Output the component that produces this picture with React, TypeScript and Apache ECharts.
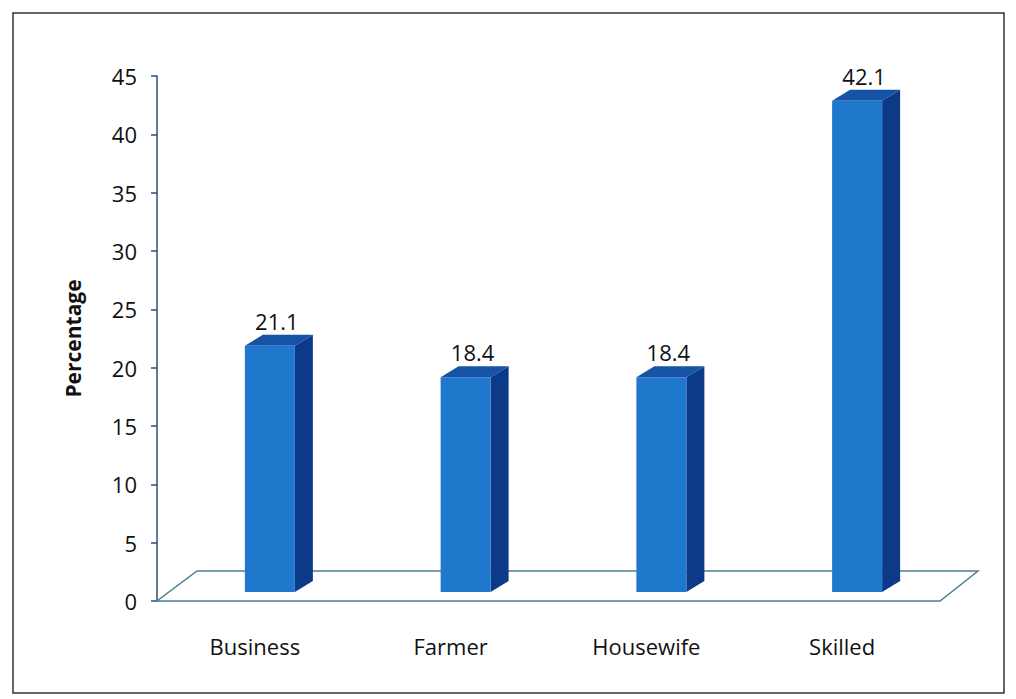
import React, { useEffect, useRef } from "react";
import * as echarts from "echarts";

const categories = ["Business", "Farmer", "Housewife", "Skilled"];
const values = [21.1, 18.4, 18.4, 42.1];
const yMin = 0;
const yMax = 45;
const yInterval = 5;

const FRONT = "#1f78cc";
const SIDE = "#0c3a88";
const TOP = "#1652a6";
const FONT = "'Open Sans', 'Noto Sans', sans-serif";

export default function App() {
  const ref = useRef<HTMLDivElement>(null);
  useEffect(() => {
    if (!ref.current) return;
    const chart = echarts.init(ref.current, null, { renderer: "svg" });
    const option: any = {
      animation: false,
      backgroundColor: "#ffffff",
      grid: { left: 157, right: 76, top: 76, bottom: 98 },
      xAxis: {
        type: "category",
        data: categories,
        axisLine: { show: false },
        axisTick: { show: false },
        axisLabel: { margin: 34, fontSize: 22, color: "#111", fontFamily: FONT },
      },
      yAxis: {
        type: "value",
        min: yMin,
        max: yMax,
        interval: yInterval,
        name: "Percentage",
        nameLocation: "middle",
        nameGap: 74,
        nameTextStyle: { fontSize: 21, fontWeight: "bold", color: "#111", fontFamily: FONT },
        axisLine: { show: true, lineStyle: { color: "#2a4f7a", width: 1.5 } },
        axisTick: { show: true, length: 6, lineStyle: { color: "#2a4f7a", width: 1.5 } },
        axisLabel: { fontSize: 22, color: "#111", margin: 20, fontFamily: FONT },
        splitLine: { show: false },
      },
      graphic: [
        {
          type: "rect",
          shape: { x: 13, y: 13, width: 991, height: 680 },
          style: { fill: "none", stroke: "#333", lineWidth: 1.5 },
          silent: true,
        },
      ],
      series: [
        {
          type: "custom",
          z: 1,
          data: [[0, 0]],
          renderItem: (params: any, api: any) => {
            const a = api.coord([0, 0]);
            const band = api.size([1, 0])[0];
            const left = a[0] - band / 2;
            const right = left + band * categories.length;
            const y0 = a[1];
            return {
              type: "polygon",
              shape: {
                points: [
                  [left, y0],
                  [right, y0],
                  [right + 38, y0 - 30],
                  [left + 40, y0 - 30],
                ],
              },
              style: { fill: "none", stroke: "#4d7f95", lineWidth: 1.5 },
            };
          },
        },
        {
          type: "custom",
          z: 2,
          data: values.map((v, i) => [i, v]),
          renderItem: (params: any, api: any) => {
            const x = api.value(0);
            const v = api.value(1);
            const base = api.coord([x, 0]);
            const top = api.coord([x, v]);
            const cx = base[0] + 15;
            const w = 50;
            const ddx = 18;
            const ddy = 11;
            const yb = base[1] - 9;
            const yt = top[1] - 9;
            const l = cx - w / 2;
            const r = cx + w / 2;
            return {
              type: "group",
              children: [
                {
                  type: "polygon",
                  shape: { points: [[r, yt], [r + ddx, yt - ddy], [r + ddx, yb - ddy], [r, yb]] },
                  style: { fill: SIDE },
                },
                {
                  type: "polygon",
                  shape: { points: [[l, yt], [l + ddx, yt - ddy], [r + ddx, yt - ddy], [r, yt]] },
                  style: { fill: TOP },
                },
                {
                  type: "rect",
                  shape: { x: l, y: yt, width: w, height: yb - yt },
                  style: { fill: FRONT },
                },
                {
                  type: "text",
                  style: {
                    x: cx + ddx / 2 - 2,
                    y: yt - ddy - 14,
                    text: v.toFixed(1),
                    align: "center",
                    verticalAlign: "middle",
                    fontSize: 22,
                    fontFamily: FONT,
                    fill: "#111",
                  },
                },
              ],
            };
          },
        },
      ],
    };
    chart.setOption(option);
    return () => chart.dispose();
  }, []);
  return (
    <div
      ref={ref}
      style={{ position: "absolute", left: 0, top: 0, width: 1016, height: 699 }}
    />
  );
}
